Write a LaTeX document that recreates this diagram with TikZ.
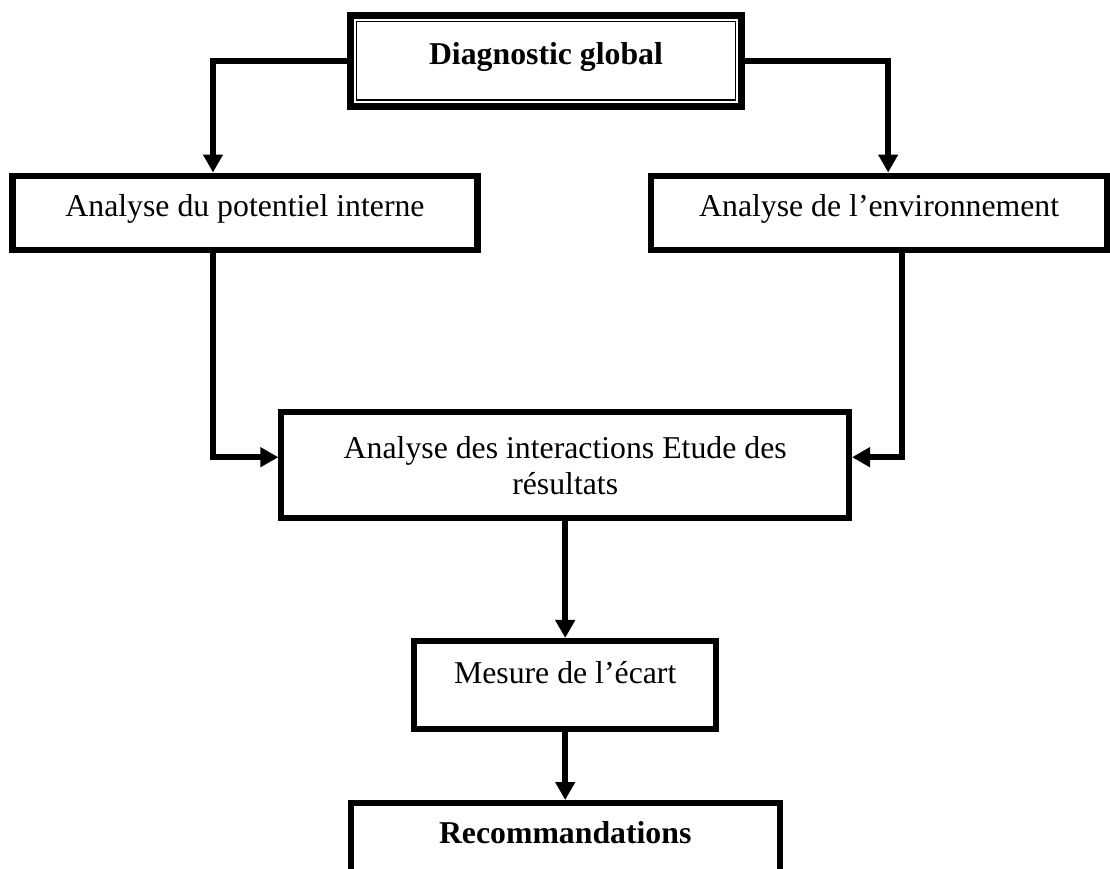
\documentclass[tikz,border=0pt]{standalone}
\usepackage{fontspec}
\setmainfont{Liberation Serif}
\usetikzlibrary{arrows.meta, positioning}
\tikzset{
  % Box styles
  flowbox/.style={rectangle, draw=black, line width=4.3pt, fill=white, font=\fontsize{22.6}{25.6}\selectfont, align=center, inner sep=0pt},
  titlebox/.style={flowbox, line width=5pt, font=\fontsize{22.6}{25.6}\selectfont\bfseries},
  oneline/.style={text height=0.6cm, text depth=#1},
  innerframe/.style={draw=black, line width=1pt},
  % Arrow styles
  arrow/.style={-{Triangle[length=12.8pt, width=13.5pt]}, line width=4.3pt, black}
}
\begin{document}
\begin{tikzpicture}
  \clip (0,0) rectangle (27.75,21.7);
  % Boxes
  \node[titlebox, oneline=0.43cm, minimum width=9.775cm, minimum height=2.27cm] (diag) at (13.65,20.18) {Diagnostic global};
  \draw[innerframe] ([shift={(0.24,0.24)}]diag.south west) rectangle ([shift={(-0.24,-0.24)}]diag.north east);
  \node[flowbox, oneline=0.39cm, minimum width=11.625cm, minimum height=1.8625cm] (analint) at (6.125,16.38) {Analyse du potentiel interne};
  \node[flowbox, oneline=0.39cm, minimum width=11.4cm, minimum height=1.8625cm, right=4.19cm of analint] (analenv) {Analyse de l’environnement};
  \node[flowbox, minimum width=14.19cm, minimum height=2.6375cm] (inter) at (14.13,10.07) {Analyse des interactions Etude des\\résultats};
  \node[flowbox, oneline=0.685cm, minimum width=7.5625cm, minimum height=2.2cm, below=2.925cm of inter] (mesure) {Mesure de l’écart};
  \node[titlebox, line width=4.3pt, oneline=1.1cm, minimum width=10.725cm, minimum height=2.5cm, below=1.7cm of mesure] (reco) {Recommandations};

  % Connectors
  \draw[arrow] (diag.west) -| ([xshift=-0.8cm]analint.north);
  \draw[arrow] (diag.east) -| ([xshift=0.225cm]analenv.north);
  \draw[arrow] ([xshift=-0.8cm]analint.south) |- ([yshift=0.2cm]inter.west);
  \draw[arrow] ([xshift=0.575cm]analenv.south) |- ([yshift=0.2cm]inter.east);
  \draw[arrow] (inter.south) -- (inter.south |- mesure.north);
  \draw[arrow] (mesure.south) -- (mesure.south |- reco.north);
\end{tikzpicture}
\end{document}
